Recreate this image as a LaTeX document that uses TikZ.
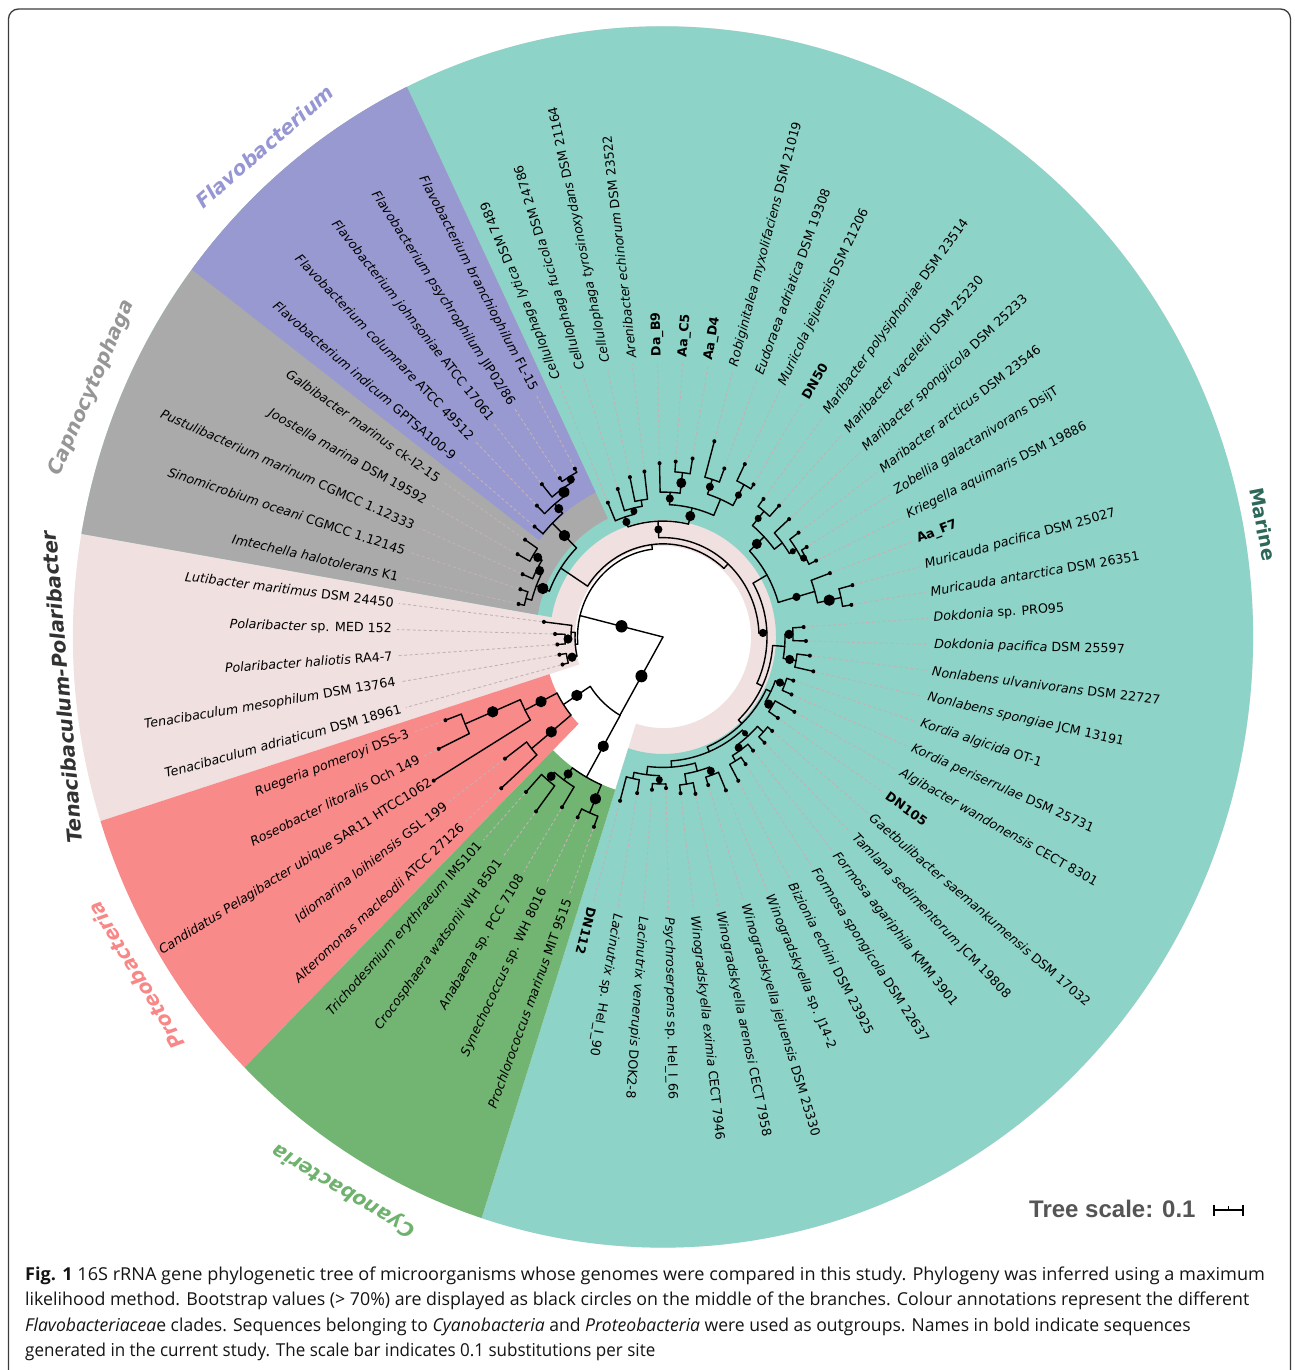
\documentclass[tikz,border=0pt]{standalone}
\usepackage{fontspec}
\setmainfont{DejaVu Sans}[ItalicFont={DejaVu Sans Oblique},BoldFont={DejaVu Sans Bold},BoldItalicFont={DejaVu Sans Bold Oblique}]
\newfontfamily\capfont{Open Sans}
\newfontfamily\arialfont{Liberation Sans}
\definecolor{cMar}{RGB}{141,211,199}
\definecolor{cFla}{RGB}{153,153,209}
\definecolor{cCap}{RGB}{170,170,170}
\definecolor{cTen}{RGB}{240,224,224}
\definecolor{cPro}{RGB}{248,138,138}
\definecolor{cCya}{RGB}{114,180,114}
\definecolor{cMarTxt}{RGB}{45,105,90}
\definecolor{cFlaTxt}{RGB}{150,150,212}
\definecolor{cCapTxt}{RGB}{150,150,150}
\definecolor{cTenTxt}{RGB}{50,50,50}
\definecolor{cProTxt}{RGB}{248,135,135}
\definecolor{cCyaTxt}{RGB}{110,178,110}
\definecolor{cDash}{RGB}{195,178,180}
\definecolor{cScale}{RGB}{85,85,85}
\definecolor{cFrame}{RGB}{60,60,60}
\newcommand\Lang[1]{(113-(#1)*5.4545454+360*((#1)>40))}
\newcommand\mysector[5]{\fill[#1] (#2:#4) arc[start angle=#2,end angle=#3,radius=#4] -- (#3:#5) arc[start angle=#3,end angle=#2,radius=#5] -- cycle;}
\newcommand\mystem[4]{\pgfmathsetmacro\stA{#1}\draw[br] (\stA:#2) -- (\stA:#3);%
  \ifdim#4pt>0pt \pgfmathsetmacro\stM{(#2+#3)/2}\fill (\stA:\stM) circle[radius=#4];\fi}
\newcommand\myarc[3]{\pgfmathsetmacro\arA{#1}\pgfmathsetmacro\arB{#2}\draw[br] (\arA:#3) arc[start angle=\arA,end angle=\arB,radius=#3];}
\newcommand\myleaf[4]{%
  \pgfmathsetmacro\lfA{\Lang{#1}}%
  \pgfmathsetmacro\lfS{atan2(1.035*sin(\lfA),cos(\lfA))}%
  \draw[br] (\lfA:#2) -- (\lfA:#3);%
  \fill (\lfA:#3) circle[radius=2];%
  \ifdim#3pt<265pt \pgfmathsetmacro\lfT{#3+2}\draw[dsh] (\lfA:\lfT) -- (\lfA:266);\fi
  \ifnum#1>40
    \pgfmathsetmacro\lfR{\lfS-180}%
    \node[lbl,anchor=east,rotate=\lfR] (l#1) at (\lfA:271) {#4};%
  \else
    \node[lbl,anchor=west,rotate=\lfS] (l#1) at (\lfA:271) {#4};%
  \fi}
\begin{document}
\begin{tikzpicture}[x=1pt,y=1pt,
  br/.style={line width=1.4pt, line cap=round, line join=round},
  dsh/.style={cDash, line width=0.9pt, dash pattern=on 3pt off 2.5pt},
  lbl/.style={font=\fontsize{12.7}{14}\selectfont, inner sep=0pt, text=black},
  clade/.style={font=\fontsize{20}{24}\selectfont\bfseries\itshape, inner sep=0pt},
  captxt/.style={font=\capfont\fontsize{17.8}{21}\selectfont, anchor=base west, inner sep=0pt, text=black!92}]
\useasboundingbox (0,0) rectangle (1295,-1370);
\fill[white] (0,0) rectangle (1295,-1370);
\draw[cFrame, line width=1.3pt] (8.5,-1375) -- (8.5,-19) arc[start angle=180,end angle=90,radius=10] -- (1280.5,-9) arc[start angle=90,end angle=0,radius=10] -- (1290.5,-1375);

% ---- node angles ----
\pgfmathsetmacro\aRR{(\Lang{49}+\Lang{50})/2}
\pgfmathsetmacro\aPA{(\Lang{48}+\aRR)/2}
\pgfmathsetmacro\aPB{(\Lang{46}+\Lang{47})/2}
\pgfmathsetmacro\aPR{(\aPA+\aPB)/2}
\pgfmathsetmacro\aCZ{(\Lang{41}+\Lang{42})/2}
\pgfmathsetmacro\aCXb{(\Lang{44}+\Lang{45})/2}
\pgfmathsetmacro\aCX{(\Lang{43}+\aCXb)/2}
\pgfmathsetmacro\aCY{(\aCX+\aCZ)/2}
\pgfmathsetmacro\aTen{(\Lang{51}+\Lang{52})/2}
\pgfmathsetmacro\aPol{(\Lang{53}+\Lang{54})/2}
\pgfmathsetmacro\aPL{(\Lang{55}+\aPol)/2}
\pgfmathsetmacro\aTPL{(\aTen+\aPL)/2}
\pgfmathsetmacro\aCAPa{(\Lang{56}+\Lang{57})/2}
\pgfmathsetmacro\aCAPc{(\Lang{59}+\Lang{60})/2}
\pgfmathsetmacro\aCAPb{(\Lang{58}+\aCAPc)/2}
\pgfmathsetmacro\aCAP{(\aCAPa+\aCAPb)/2}
\pgfmathsetmacro\aFLd{(\Lang{64}+\Lang{65})/2}
\pgfmathsetmacro\aFLc{(\Lang{63}+\aFLd)/2}
\pgfmathsetmacro\aFLb{(\Lang{62}+\aFLc)/2}
\pgfmathsetmacro\aFLA{(\Lang{61}+\aFLb)/2}
\pgfmathsetmacro\aCF{(\aCAP+\aFLA)/2}
\pgfmathsetmacro\aMTc{(\Lang{2}+\Lang{3})/2}
\pgfmathsetmacro\aMTb{(\Lang{1}+\aMTc)/2}
\pgfmathsetmacro\aMTa{(\Lang{0}+\aMTb)/2}
\pgfmathsetmacro\aMUb{(\Lang{5}+\Lang{6})/2}
\pgfmathsetmacro\aMUa{(\Lang{4}+\aMUb)/2}
\pgfmathsetmacro\aMVa{(\Lang{7}+\Lang{8})/2}
\pgfmathsetmacro\aMVb{(\Lang{9}+\Lang{10})/2}
\pgfmathsetmacro\aMV{(\aMVa+\aMVb)/2}
\pgfmathsetmacro\aMU{(\aMUa+\aMV)/2}
\pgfmathsetmacro\aMT{(\aMTa+\aMU)/2}
\pgfmathsetmacro\aRa{(\Lang{11}+\Lang{12})/2}
\pgfmathsetmacro\aRd{(\Lang{15}+\Lang{16})/2}
\pgfmathsetmacro\aRc{(\Lang{14}+\aRd)/2}
\pgfmathsetmacro\aRb{(\Lang{13}+\aRc)/2}
\pgfmathsetmacro\aRA{(\aRa+\aRb)/2}
\pgfmathsetmacro\aRf{(\Lang{18}+\Lang{19})/2}
\pgfmathsetmacro\aRB{(\Lang{17}+\aRf)/2}
\pgfmathsetmacro\aRone{(\aRA+\aRB)/2}
\pgfmathsetmacro\aSa{(\Lang{20}+\Lang{21})/2}
\pgfmathsetmacro\aSb{(\Lang{22}+\Lang{23})/2}
\pgfmathsetmacro\aS{(\aSa+\aSb)/2}
\pgfmathsetmacro\aEa{(\Lang{24}+\Lang{25})/2}
\pgfmathsetmacro\aEb{(\Lang{26}+\Lang{27})/2}
\pgfmathsetmacro\aE{(\aEa+\aEb)/2}
\pgfmathsetmacro\aGa{(\Lang{28}+\Lang{29})/2}
\pgfmathsetmacro\aGc{(\Lang{31}+\Lang{32})/2}
\pgfmathsetmacro\aGb{(\Lang{30}+\aGc)/2}
\pgfmathsetmacro\aG{(\aGa+\aGb)/2}
\pgfmathsetmacro\aHa{(\Lang{33}+\Lang{34})/2}
\pgfmathsetmacro\aHb{(\Lang{35}+\Lang{36})/2}
\pgfmathsetmacro\aHone{(\aHa+\aHb)/2}
\pgfmathsetmacro\aHc{(\Lang{37}+\Lang{38})/2}
\pgfmathsetmacro\aHd{(\Lang{39}+\Lang{40})/2}
\pgfmathsetmacro\aHtwo{(\aHc+\aHd)/2}
\pgfmathsetmacro\aH{(\aHone+\aHtwo)/2}
\pgfmathsetmacro\aMf{(\aG+\aH)/2}
\pgfmathsetmacro\aMd{(\aE+\aMf)/2}
\pgfmathsetmacro\aRtwo{(\aS+\aMd)/2}
\pgfmathsetmacro\aMR{(\aRone+\aRtwo)/2}
\pgfmathsetmacro\aMAR{(\aMT+\aMR)/2}
\pgfmathsetmacro\aREST{(\aCF+\aMAR)/2}

\begin{scope}[shift={(663,-637)}, yscale=1.035]
% ---- coloured ranges ----
\mysector{cTen}{-107.91}{197.55}{88}{590}
\mysector{cMar}{-107.91}{170.27}{113}{590}
\mysector{cCap}{115.73}{170.27}{127}{590}
\mysector{cFla}{115.73}{143.0}{155}{590}
\mysector{cPro}{197.55}{224.82}{119}{590}
\mysector{cCya}{224.82}{252.09}{155}{590}

% ---- outgroups ----
\mystem{240.3}{0}{87}{6}
\myarc{\aPR}{\aCY}{87}
\mystem{\aPR}{87}{119}{5.5}
\myarc{\aPA}{\aPB}{119}
\mystem{\aPA}{119}{155}{5.5}
\myarc{\Lang{48}}{\aRR}{155}
\myleaf{48}{155}{268}{\textit{Candidatus Pelagibacter ubique} SAR11 HTCC1062}
\mystem{\aRR}{155}{215}{5.5}
\myarc{\Lang{49}}{\Lang{50}}{215}
\myleaf{49}{215}{249}{\textit{Roseobacter litoralis} Och 149}
\myleaf{50}{215}{232}{\textit{Ruegeria pomeroyi} DSS-3}
\mystem{\aPB}{119}{170}{5.5}
\myarc{\Lang{46}}{\Lang{47}}{170}
\myleaf{46}{170}{218}{\textit{Alteromonas macleodii} ATCC 27126}
\myleaf{47}{170}{197}{\textit{Idiomarina loihiensis} GSL 199}
\mystem{\aCY}{87}{155.6}{5.5}
\myarc{\aCX}{\aCZ}{155.6}
\mystem{\aCX}{155.6}{170}{4.5}
\myarc{\Lang{43}}{\aCXb}{170}
\myleaf{43}{170}{193}{\textit{Anabaena} sp. PCC 7108}
\mystem{\aCXb}{170}{180}{4.5}
\myarc{\Lang{44}}{\Lang{45}}{180}
\myleaf{44}{180}{211}{\textit{Crocosphaera watsonii} WH 8501}
\myleaf{45}{180}{203}{\textit{Trichodesmium erythraeum} IMS101}
\mystem{\aCZ}{155.6}{185}{5.5}
\myarc{\Lang{41}}{\Lang{42}}{185}
\myleaf{41}{185}{196}{\textit{Prochlorococcus marinus} MIT 9515}
\myleaf{42}{185}{194}{\textit{Synechococcus} sp. WH 8016}

% ---- Flavobacteriaceae ----
\mystem{166}{0}{85.5}{6}
\myarc{\aREST}{\aTPL}{85.5}
\mystem{\aTPL}{85.5}{88}{0}
\myarc{\aTen}{\aPL}{88}
\mystem{\aTen}{88}{98}{4.5}
\myarc{\Lang{51}}{\Lang{52}}{98}
\myleaf{51}{98}{104}{\textit{Tenacibaculum adriaticum} DSM 18961}
\myleaf{52}{98}{105}{\textit{Tenacibaculum mesophilum} DSM 13764}
\mystem{\aPL}{88}{92}{0}
\myarc{\Lang{55}}{\aPol}{92}
\myleaf{55}{92}{120}{\textit{Lutibacter maritimus} DSM 24450}
\mystem{\aPol}{92}{98}{4.5}
\myarc{\Lang{53}}{\Lang{54}}{98}
\myleaf{53}{98}{106}{\textit{Polaribacter haliotis} RA4-7}
\myleaf{54}{98}{108}{\textit{Polaribacter} sp. MED 152}
\mystem{\aREST}{85.5}{90}{0}
\myarc{\aCF}{\aMAR}{90}
\mystem{\aCF}{90}{122}{0}
\myarc{\aCAP}{\aFLA}{122}
\mystem{\aCAP}{122}{136}{5.5}
\myarc{\aCAPa}{\aCAPb}{136}
\mystem{\aCAPa}{136}{142}{0}
\myarc{\Lang{56}}{\Lang{57}}{142}
\myleaf{56}{142}{148}{\textit{Imtechella halotolerans} K1}
\myleaf{57}{142}{150}{\textit{Sinomicrobium oceani} CGMCC 1.12145}
\mystem{\aCAPb}{136}{142}{4.5}
\myarc{\Lang{58}}{\aCAPc}{142}
\myleaf{58}{142}{153}{\textit{Pustulibacterium marinum} CGMCC 1.12333}
\mystem{\aCAPc}{142}{152}{4.5}
\myarc{\Lang{59}}{\Lang{60}}{152}
\myleaf{59}{152}{166}{\textit{Joostella marina} DSM 19592}
\myleaf{60}{152}{167}{\textit{Galbibacter marinus} ck-I2-15}
\mystem{\aFLA}{122}{156}{5.5}
\myarc{\Lang{61}}{\aFLb}{156}
\myleaf{61}{156}{167}{\textit{Flavobacterium indicum} GPTSA100-9}
\mystem{\aFLb}{156}{168}{4.5}
\myarc{\Lang{62}}{\aFLc}{168}
\myleaf{62}{168}{179}{\textit{Flavobacterium columnare} ATCC 49512}
\mystem{\aFLc}{168}{175}{5.5}
\myarc{\Lang{63}}{\aFLd}{175}
\myleaf{63}{175}{191}{\textit{Flavobacterium johnsoniae} ATCC 17061}
\mystem{\aFLd}{175}{181}{4}
\myarc{\Lang{64}}{\Lang{65}}{181}
\myleaf{64}{181}{185}{\textit{Flavobacterium psychrophilum} JIP02/86}
\myleaf{65}{181}{185}{\textit{Flavobacterium branchiophilum} FL-15}

% ---- Marine ----
\mystem{\aMAR}{90}{96}{0}
\myarc{\aMT}{\aMR}{96}
\mystem{\aMT}{96}{112}{4}
\myarc{\aMTa}{\aMU}{112}
\mystem{\aMTa}{112}{122}{4}
\myarc{\Lang{0}}{\aMTb}{122}
\myleaf{0}{122}{141}{\textit{Cellulophaga lytica} DSM 7489}
\mystem{\aMTb}{122}{128}{3.5}
\myarc{\Lang{1}}{\aMTc}{128}
\myleaf{1}{128}{150}{\textit{Cellulophaga fucicola} DSM 24786}
\mystem{\aMTc}{128}{134}{0}
\myarc{\Lang{2}}{\Lang{3}}{134}
\myleaf{2}{134}{158}{\textit{Cellulophaga tyrosinoxydans} DSM 21164}
\myleaf{3}{134}{161}{\textit{Arenibacter echinorum} DSM 23522}
\mystem{\aMU}{112}{128}{5}
\myarc{\aMUa}{\aMV}{128}
\mystem{\aMUa}{128}{140}{4}
\myarc{\Lang{4}}{\aMUb}{140}
\myleaf{4}{140}{168}{\textbf{Da\_B9}}
\mystem{\aMUb}{140}{160}{5}
\myarc{\Lang{5}}{\Lang{6}}{160}
\myleaf{5}{160}{170}{\textbf{Aa\_C5}}
\myleaf{6}{160}{175}{\textbf{Aa\_D4}}
\mystem{\aMV}{128}{145}{0}
\myarc{\aMVa}{\aMVb}{145}
\mystem{\aMVa}{145}{160}{4}
\myarc{\Lang{7}}{\Lang{8}}{160}
\myleaf{7}{160}{196}{\textit{Robiginitalea myxolifaciens} DSM 21019}
\myleaf{8}{160}{174}{\textit{Eudoraea adriatica} DSM 19308}
\mystem{\aMVb}{145}{168}{3.5}
\myarc{\Lang{9}}{\Lang{10}}{168}
\myleaf{9}{168}{186}{\textit{Muriicola jejuensis} DSM 21206}
\myleaf{10}{168}{173}{\textbf{DN50}}
\mystem{\aMR}{96}{104}{4}
\myarc{\aRone}{\aRtwo}{104}
\mystem{\aRone}{104}{120}{0}
\myarc{\aRA}{\aRB}{120}
\mystem{\aRA}{120}{140}{5}
\myarc{\aRa}{\aRb}{140}
\mystem{\aRa}{140}{158}{3.5}
\myarc{\Lang{11}}{\Lang{12}}{158}
\myleaf{11}{158}{167}{\textit{Maribacter polysiphoniae} DSM 23514}
\myleaf{12}{158}{172}{\textit{Maribacter vaceletii} DSM 25230}
\mystem{\aRb}{140}{150}{0}
\myarc{\Lang{13}}{\aRc}{150}
\myleaf{13}{150}{170}{\textit{Maribacter spongiicola} DSM 25233}
\mystem{\aRc}{150}{158}{3}
\myarc{\Lang{14}}{\aRd}{158}
\myleaf{14}{158}{169}{\textit{Maribacter arcticus} DSM 23546}
\mystem{\aRd}{158}{162}{3.5}
\myarc{\Lang{15}}{\Lang{16}}{162}
\myleaf{15}{162}{168}{\textit{Zobellia galactanivorans} DsijT}
\myleaf{16}{162}{170}{\textit{Kriegella aquimaris} DSM 19886}
\mystem{\aRB}{120}{158}{4}
\myarc{\Lang{17}}{\aRf}{158}
\myleaf{17}{158}{178}{\textbf{Aa\_F7}}
\mystem{\aRf}{158}{182}{5.5}
\myarc{\Lang{18}}{\Lang{19}}{182}
\myleaf{18}{182}{196}{\textit{Muricauda pacifica} DSM 25027}
\myleaf{19}{182}{191}{\textit{Muricauda antarctica} DSM 26351}
\mystem{\aRtwo}{104}{110}{0}
\myarc{\aS}{\aMd}{110}
\mystem{\aS}{110}{122}{0}
\myarc{\aSa}{\aSb}{122}
\mystem{\aSa}{122}{130}{4.5}
\myarc{\Lang{20}}{\Lang{21}}{130}
\myleaf{20}{130}{141}{\textit{Dokdonia} sp. PRO95}
\myleaf{21}{130}{143}{\textit{Dokdonia pacifica} DSM 25597}
\mystem{\aSb}{122}{135}{4.5}
\myarc{\Lang{22}}{\Lang{23}}{135}
\myleaf{22}{135}{148}{\textit{Nonlabens ulvanivorans} DSM 22727}
\myleaf{23}{135}{154}{\textit{Nonlabens spongiae} JCM 13191}
\mystem{\aMd}{110}{115}{0}
\myarc{\aE}{\aMf}{115}
\mystem{\aE}{115}{120}{0}
\myarc{\aEa}{\aEb}{120}
\mystem{\aEa}{120}{130}{4}
\myarc{\Lang{24}}{\Lang{25}}{130}
\myleaf{24}{130}{137}{\textit{Kordia algicida} OT-1}
\myleaf{25}{130}{140}{\textit{Kordia periserrulae} DSM 25731}
\mystem{\aEb}{120}{128}{4.5}
\myarc{\Lang{26}}{\Lang{27}}{128}
\myleaf{26}{128}{150}{\textit{Algibacter wandonensis} CECT 8301}
\myleaf{27}{128}{139}{\textbf{DN105}}
\mystem{\aMf}{115}{120}{0}
\myarc{\aG}{\aH}{120}
\mystem{\aG}{120}{128}{3}
\myarc{\aGa}{\aGb}{128}
\mystem{\aGa}{128}{136}{0}
\myarc{\Lang{28}}{\Lang{29}}{136}
\myleaf{28}{136}{142}{\textit{Gaetbulibacter saemankumensis} DSM 17032}
\myleaf{29}{136}{144}{\textit{Tamlana sedimentorum} JCM 19808}
\mystem{\aGb}{128}{134}{4}
\myarc{\Lang{30}}{\aGc}{134}
\myleaf{30}{134}{142}{\textit{Formosa agariphila} KMM 3901}
\mystem{\aGc}{134}{140}{0}
\myarc{\Lang{31}}{\Lang{32}}{140}
\myleaf{31}{140}{148}{\textit{Formosa spongicola} DSM 22637}
\myleaf{32}{140}{158}{\textit{Bizionia echini} DSM 23925}
\mystem{\aH}{120}{126}{0}
\myarc{\aHone}{\aHtwo}{126}
\mystem{\aHone}{126}{134}{0}
\myarc{\aHa}{\aHb}{134}
\mystem{\aHa}{134}{142}{4}
\myarc{\Lang{33}}{\Lang{34}}{142}
\myleaf{33}{142}{161}{\textit{Winogradskyella} sp. J14-2}
\myleaf{34}{142}{150}{\textit{Winogradskyella jejuensis} DSM 25330}
\mystem{\aHb}{134}{144}{0}
\myarc{\Lang{35}}{\Lang{36}}{144}
\myleaf{35}{144}{155}{\textit{Winogradskyella arenosi} CECT 7958}
\myleaf{36}{144}{152}{\textit{Winogradskyella eximia} CECT 7946}
\mystem{\aHtwo}{126}{134}{0}
\myarc{\aHc}{\aHd}{134}
\mystem{\aHc}{134}{142}{3.5}
\myarc{\Lang{37}}{\Lang{38}}{142}
\myleaf{37}{142}{146}{\textit{Psychroserpens} sp. Hel\_I\_66}
\myleaf{38}{142}{148}{\textit{Lacinutrix venerupis} DOK2-8}
\mystem{\aHd}{134}{140}{0}
\myarc{\Lang{39}}{\Lang{40}}{140}
\myleaf{39}{140}{153}{\textit{Lacinutrix} sp. Hel\_I\_90}
\myleaf{40}{140}{164}{\textbf{DN112}}
\end{scope}

% ---- clade labels ----
\node[inner sep=0pt, font=\fontsize{19}{22}\selectfont\bfseries, text=cMarTxt, rotate=-79] (mar) at (1263,-524) {Marine};
\node[clade, text=cFlaTxt, rotate=41] (fla) at (264.5,-146.5) {Flavobacterium};
\node[clade, text=cCapTxt, rotate=66.8] (capn) at (92,-388) {Capnocytophaga};
\node[clade, text=cTenTxt, rotate=94.9] (ten) at (62,-687) {Tenacibaculum-Polaribacter};
\node[clade, text=cProTxt, rotate=121] (pro) at (136,-976) {Proteobacteria};
\node[clade, text=cCyaTxt, rotate=149] (cya) at (344,-1190) {Cyanobacteria};

% ---- tree scale ----
\node[font=\arialfont\bfseries\fontsize{24}{28}\selectfont, text=cScale, anchor=base west, inner sep=0pt] (ts) at (1029,-1217) {Tree scale: 0.1};
\coordinate (sbl) at (1214,-1210);
\coordinate (sbr) at (1243,-1210);
\draw[line width=1.5pt] (sbl) -- (sbr);
\draw[line width=1.5pt] ([yshift=5.5pt]sbl) -- ([yshift=-5.5pt]sbl);
\draw[line width=1.5pt] ([yshift=5.5pt]sbr) -- ([yshift=-5.5pt]sbr);
\draw[line width=1.2pt] (1228.5,-1206) -- (1228.5,-1210);

% ---- caption ----
\node[captxt] (c1) at (25,-1280) {\scalebox{1.018}[1]{\textbf{Fig. 1} 16S rRNA gene phylogenetic tree of microorganisms whose genomes were compared in this study. Phylogeny was inferred using a maximum}};
\node[captxt] (c2) at (25,-1305.5) {\scalebox{0.999}[1]{likelihood method. Bootstrap values (> 70\%) are displayed as black circles on the middle of the branches. Colour annotations represent the different}};
\node[captxt] (c3) at (25,-1331) {\scalebox{0.986}[1]{\textit{Flavobacteriacea}e clades. Sequences belonging to \textit{Cyanobacteria} and \textit{Proteobacteria} were used as outgroups. Names in bold indicate sequences}};
\node[captxt] (c4) at (25,-1356.5) {\scalebox{0.956}[1]{generated in the current study. The scale bar indicates 0.1 substitutions per site}};
\end{tikzpicture}
\end{document}
